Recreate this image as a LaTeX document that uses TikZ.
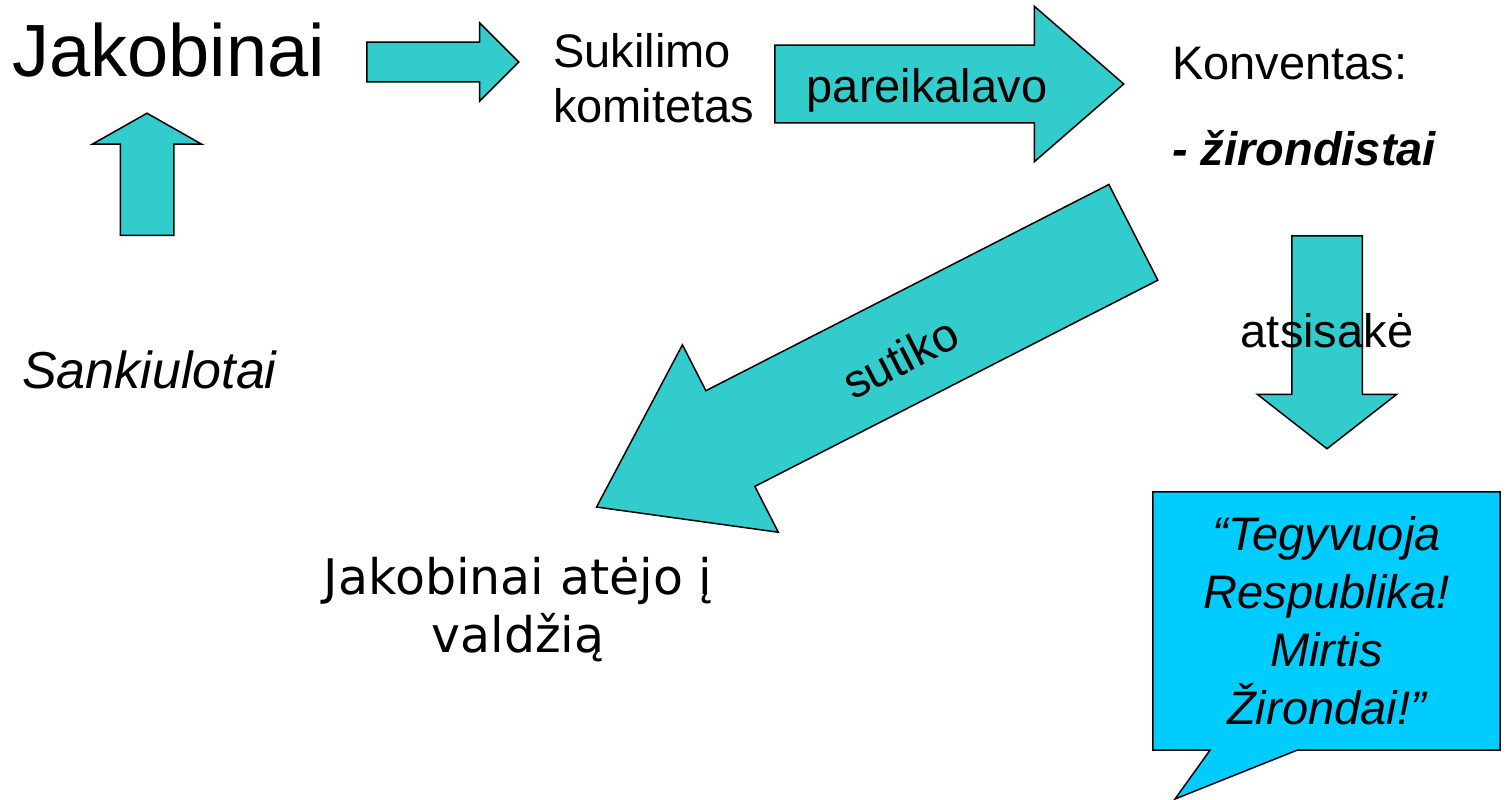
\documentclass[tikz,border=0pt]{standalone}
\usepackage{fontspec}
\setmainfont{Liberation Sans}
\newfontfamily\verdanafont{DejaVu Sans}
\usepackage{tikz}
\usepackage{xcolor}
\usetikzlibrary{shapes.arrows, positioning, backgrounds}

\definecolor{arrowteal}{HTML}{33CCCC}
\definecolor{bubbleblue}{HTML}{00CCFF}

\begin{document}
\begin{tikzpicture}[x=1pt, y=-1pt]

    % Define style for different elements
    \tikzstyle{blockarrow} = [single arrow, draw=black, line width=1.5pt, fill=arrowteal, single arrow head indent=0pt, inner xsep=0pt, anchor=tail]
    \tikzstyle{word} = [inner sep=0pt, font=\fontsize{47}{55}\selectfont]
    \tikzstyle{bubble} = [draw=black, line width=1.5pt, fill=bubbleblue]

    \useasboundingbox (0,0) rectangle (1507,800);

    % Place arrows (shaft width = 2 x inner ysep)
    \node (toKom) [blockarrow, inner ysep=19pt, minimum height=152pt, minimum width=77pt, single arrow head extend=19.5pt, single arrow tip angle=90] at (366,62) {};
    \node (toKonv) [blockarrow, inner ysep=38pt, minimum height=349pt, minimum width=154pt, single arrow head extend=39pt, single arrow tip angle=82] at (774,84) {};
    \node (up) [blockarrow, rotate=90, inner ysep=26pt, minimum height=122pt, minimum width=108pt, single arrow head extend=28pt, single arrow tip angle=121] at (147,236) {};
    \node (down) [blockarrow, rotate=-90, inner ysep=34.5pt, minimum height=213pt, minimum width=138pt, single arrow head extend=34.5pt, single arrow tip angle=104] at (1327,235) {};
    \node (agree) [blockarrow, rotate=207.1, inner ysep=53pt, minimum height=603pt, minimum width=209pt, single arrow head extend=51.5pt, single arrow tip angle=70] at (1134,232) {};

    % Place nodes
    \node (jak) [word, font=\fontsize{74}{80}\selectfont, anchor=base west] at (12,77) {Jakobinai};
    \node (kom) [word, align=left, anchor=north west] at (553,33) {Sukilimo\\komitetas};
    \node (demand) [word, anchor=base] at (927,102) {pareikalavo};
    \node (konv) [word, anchor=base west] at (1172,80) {Konventas:};
    \node (ziro) [word, font=\fontsize{47}{55}\selectfont\bfseries\itshape, below=85pt of konv.base west, anchor=base west] {- žirondistai};
    \node (sank) [word, font=\fontsize{52}{60}\selectfont\itshape, anchor=base west] at (22,388) {Sankiulotai};
    \node (sutiko) [word, rotate=27.1] at (900,358) {sutiko};
    \node (atsi) [word, anchor=base] at (1327,347) {atsisakė};
    \node (valdzia) [word, font=\fontsize{49}{58}\selectfont\verdanafont, align=center, anchor=north] at (518,557) {Jakobinai atėjo į\\valdžią};
    \node (quote) [word, font=\fontsize{47}{58}\selectfont\itshape, align=center, minimum width=347pt, minimum height=258pt] at (1326.5,621) {“Tegyvuoja\\Respublika!\\Mirtis\\Žirondai!”};
    \coordinate (qtip) at (1175,799);

    % Draw speech bubble
    \begin{scope}[on background layer]
        \draw [bubble] (quote.north west) -- (quote.north east) -- (quote.south east) -- ([xshift=-29.5pt]quote.south) -- (qtip) -- ([xshift=-116.5pt]quote.south) -- (quote.south west) -- cycle;
    \end{scope}

\end{tikzpicture}
\end{document}
